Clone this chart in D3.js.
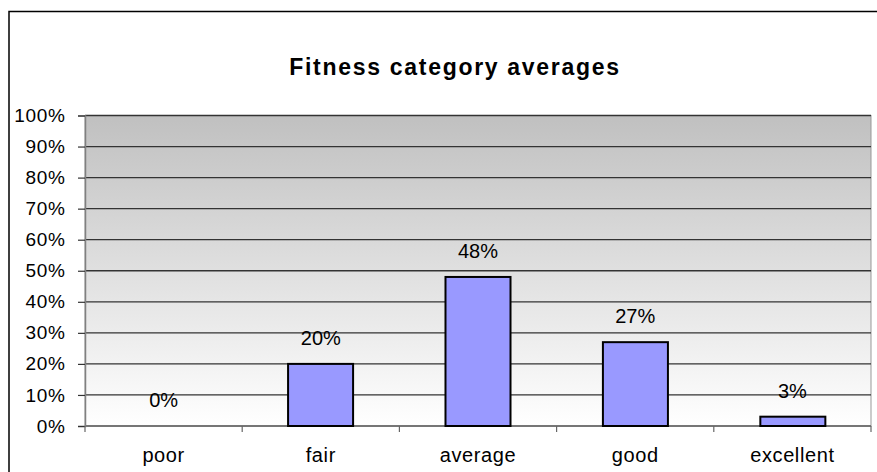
<!DOCTYPE html>
<html><head><meta charset="utf-8">
<script src="https://cdn.jsdelivr.net/npm/d3@7"></script>
<style>body{margin:0;background:#fff}svg{display:block}text{font-family:"Liberation Sans",Arial,sans-serif}</style>
</head><body>
<svg id="c" width="877" height="472"></svg>
<script>
const categories = ["poor","fair","average","good","excellent"];
const values = [0, 20, 48, 27, 3];
const yTicks = [0,10,20,30,40,50,60,70,80,90,100];
const title = "Fitness category averages";

const data = categories.map((c,i)=>({cat:c, val:values[i]}));

const svg = d3.select("#c");
const m = {left:85, right:871, top:115.5, bottom:426};

const defs = svg.append("defs");
const g = defs.append("linearGradient").attr("id","bg").attr("x1",0).attr("y1",0).attr("x2",0).attr("y2",1);
g.append("stop").attr("offset","0%").attr("stop-color","#c0c0c0");
g.append("stop").attr("offset","100%").attr("stop-color","#ffffff");

// outer border
svg.append("rect").attr("x",9).attr("y",11.5).attr("width",900).attr("height",500)
  .attr("fill","#fff").attr("stroke","#000").attr("stroke-width",1.5);

const x = d3.scaleBand().domain(categories).range([m.left,m.right]).paddingInner(0.587).paddingOuter(0.29);
const xb = d3.scaleBand().domain(categories).range([m.left,m.right]);
const y = d3.scaleLinear().domain([0,100]).range([m.bottom,m.top]);

svg.append("rect").attr("x",m.left).attr("y",m.top).attr("width",m.right-m.left).attr("height",m.bottom-m.top)
  .attr("fill","url(#bg)").attr("stroke","#999").attr("stroke-width",1);

// gridlines
svg.append("g").selectAll("line").data(yTicks).join("line")
  .attr("x1",m.left).attr("x2",m.right).attr("y1",d=>y(d)).attr("y2",d=>y(d))
  .attr("stroke","#333").attr("stroke-width",1.3);

// y axis
const ya = svg.append("g").attr("transform",`translate(${m.left},0)`)
  .call(d3.axisLeft(y).tickValues(yTicks).tickFormat(d=>d+"%").tickSize(7).tickPadding(13));
ya.select(".domain").attr("stroke","#808080").attr("stroke-width",1.5);
ya.selectAll(".tick line").attr("stroke","#333").attr("stroke-width",1.2);
ya.selectAll("text").attr("font-size",19).attr("fill","#000").attr("letter-spacing","0.7px")
  .attr("font-family","'Liberation Sans',Arial,sans-serif").attr("dx","0.7");

// x axis
const xa = svg.append("g").attr("transform",`translate(0,${m.bottom})`);
xa.append("line").attr("x1",m.left).attr("x2",m.right).attr("stroke","#808080").attr("stroke-width",1.5);
const bounds = categories.map(c=>xb(c)).concat([xb(categories[categories.length-1])+xb.bandwidth()]);
xa.selectAll("line.t").data(bounds).join("line").attr("class","t")
  .attr("x1",d=>d).attr("x2",d=>d).attr("y1",0).attr("y2",6).attr("stroke","#666").attr("stroke-width",1.2);
xa.selectAll("text").data(categories).join("text")
  .attr("x",d=>xb(d)+xb.bandwidth()/2).attr("y",36).attr("text-anchor","middle")
  .attr("font-size",20).attr("letter-spacing","0.6px").text(d=>d);

// bars
svg.append("g").selectAll("rect").data(data.filter(d=>d.val>0)).join("rect")
  .attr("x",d=>x(d.cat)).attr("width",x.bandwidth())
  .attr("y",d=>y(d.val)).attr("height",d=>y(0)-y(d.val))
  .attr("fill","#9999ff").attr("stroke","#000").attr("stroke-width",2);

// data labels
svg.append("g").selectAll("text").data(data).join("text")
  .attr("x",d=>xb(d.cat)+xb.bandwidth()/2).attr("y",d=>y(d.val)-19)
  .attr("text-anchor","middle").attr("font-size",20).attr("fill","#000").text(d=>d.val+"%");

// title
svg.append("text").attr("x",455).attr("y",75).attr("text-anchor","middle")
  .attr("font-size",23).attr("font-weight","bold").attr("letter-spacing","1.7px").text(title);
</script>
</body></html>
